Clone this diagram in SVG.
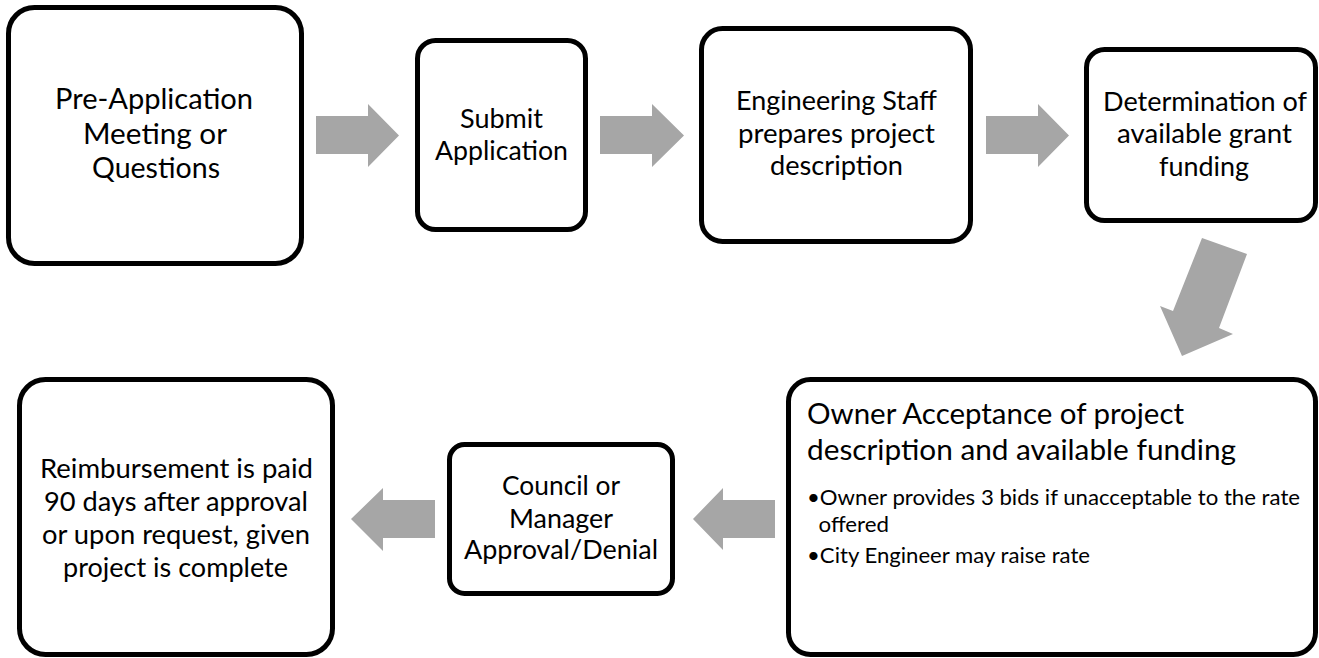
<svg xmlns="http://www.w3.org/2000/svg" width="1319" height="658" viewBox="0 0 1319 658">
<style>
.box{fill:#fff;stroke:#000;stroke-width:5}
.arr{fill:#A6A6A6;stroke:none}
text{font-family:Lato,"Open Sans","Liberation Sans",sans-serif;fill:#000}
.c{text-anchor:middle}
</style>
<rect width="1319" height="658" fill="#fff"/>
<g id="connectors">
<polygon class="arr" points="316,116 368,116 368,104 399,135.5 368,167 368,154 316,154"/>
<polygon class="arr" points="600,116 652,116 652,104 684,135.5 652,167 652,154 600,154"/>
<polygon class="arr" points="986,116 1038,116 1038,104 1069,135.5 1038,167 1038,154 986,154"/>
<polygon class="arr" points="1202,238 1247,254 1219,328 1233,334 1182,356 1160,306 1173,311"/>
<polygon class="arr" points="775,500 723,500 723,488 693,519 723,550 723,538 775,538"/>
<polygon class="arr" points="435,500 383,500 383,488 351,519 383,551 383,538 435,538"/>
</g>
<g id="n1">
<rect class="box" x="8.5" y="7.5" width="293" height="256" rx="26"/>
<text class="c" font-size="28.5"><tspan x="154" y="109" textLength="198" lengthAdjust="spacingAndGlyphs">Pre-Application</tspan><tspan x="155" y="144" textLength="144" lengthAdjust="spacingAndGlyphs">Meeting or</tspan><tspan x="156" y="178" textLength="128" lengthAdjust="spacingAndGlyphs">Questions</tspan></text>
</g>
<g id="n2">
<rect class="box" x="417.5" y="40.5" width="168" height="189" rx="18"/>
<text class="c" font-size="26.5"><tspan x="501.5" y="128" textLength="83" lengthAdjust="spacingAndGlyphs">Submit</tspan><tspan x="501.5" y="160" textLength="133" lengthAdjust="spacingAndGlyphs">Application</tspan></text>
</g>
<g id="n3">
<rect class="box" x="701.5" y="28.5" width="269" height="213" rx="21"/>
<text class="c" font-size="26.5"><tspan x="836.5" y="110" textLength="201" lengthAdjust="spacingAndGlyphs">Engineering Staff</tspan><tspan x="836.5" y="143" textLength="197" lengthAdjust="spacingAndGlyphs">prepares project</tspan><tspan x="836.5" y="175" textLength="133" lengthAdjust="spacingAndGlyphs">description</tspan></text>
</g>
<g id="n4">
<rect class="box" x="1086.5" y="49.5" width="229" height="171" rx="18"/>
<text class="c" font-size="26.5"><tspan x="1205" y="111" textLength="204" lengthAdjust="spacingAndGlyphs">Determination of</tspan><tspan x="1204.5" y="143" textLength="175" lengthAdjust="spacingAndGlyphs">available grant</tspan><tspan x="1204" y="176" textLength="90" lengthAdjust="spacingAndGlyphs">funding</tspan></text>
</g>
<g id="n5">
<rect class="box" x="788.5" y="379.5" width="527" height="275" rx="22"/>
<text font-size="29"><tspan x="807" y="424" textLength="377" lengthAdjust="spacingAndGlyphs">Owner Acceptance of project</tspan><tspan x="807" y="460" textLength="429" lengthAdjust="spacingAndGlyphs">description and available funding</tspan></text>
<text font-size="21.5"><tspan x="807" y="505" textLength="493" lengthAdjust="spacingAndGlyphs">•Owner provides 3 bids if unacceptable to the rate</tspan><tspan x="818.5" y="532" textLength="70.5" lengthAdjust="spacingAndGlyphs">offered</tspan><tspan x="807" y="563" textLength="283" lengthAdjust="spacingAndGlyphs">•City Engineer may raise rate</tspan></text>
</g>
<g id="n6">
<rect class="box" x="449.5" y="444.5" width="223" height="149" rx="15"/>
<text class="c" font-size="26.5"><tspan x="561" y="495" textLength="118" lengthAdjust="spacingAndGlyphs">Council or</tspan><tspan x="561" y="528" textLength="104" lengthAdjust="spacingAndGlyphs">Manager</tspan><tspan x="561" y="559" textLength="194" lengthAdjust="spacingAndGlyphs">Approval/Denial</tspan></text>
</g>
<g id="n7">
<rect class="box" x="19.5" y="379.5" width="313" height="275" rx="26"/>
<text class="c" font-size="26.5"><tspan x="176.5" y="478" textLength="273" lengthAdjust="spacingAndGlyphs">Reimbursement is paid</tspan><tspan x="176" y="511" textLength="264" lengthAdjust="spacingAndGlyphs">90 days after approval</tspan><tspan x="176" y="544" textLength="268" lengthAdjust="spacingAndGlyphs">or upon request, given</tspan><tspan x="175.5" y="577" textLength="225" lengthAdjust="spacingAndGlyphs">project is complete</tspan></text>
</g>
</svg>
